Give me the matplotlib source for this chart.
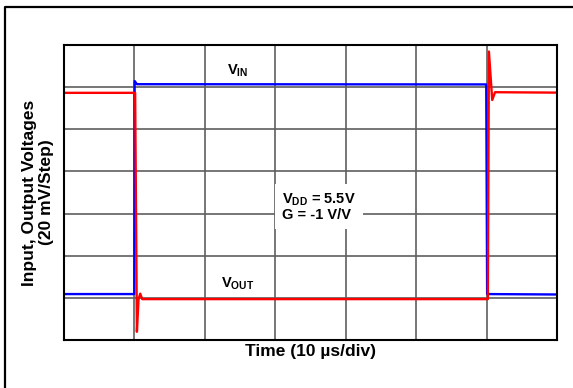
import matplotlib

matplotlib.use("Agg")
import matplotlib.pyplot as plt
from matplotlib.lines import Line2D

plt.rcParams["font.family"] = ["Liberation Sans", "DejaVu Sans"]
plt.rcParams["mathtext.fontset"] = "custom"
plt.rcParams["mathtext.rm"] = "Liberation Sans"
plt.rcParams["mathtext.bf"] = "Liberation Sans:bold"

# scope trace vertices (time in us, level in mV)
vin_time = [0, 9.98, 10.03, 10.35, 59.95, 60.08, 70]
vin_level = [21.8, 21.8, 122.9, 121.4, 121.3, 21.8, 21.6]

vout_time = [0, 10.1, 10.35, 10.58, 10.82, 11.1, 60.18, 60.33, 60.8, 61.2, 70]
vout_level = [117.3, 117.3, 3.9, 19.2, 22.0, 19.4, 19.4, 136.9, 113.9, 117.6, 117.4]

# 7 divisions each way: 10 us/div, 20 mV/step
time_divs = [0, 10, 20, 30, 40, 50, 60, 70]
level_divs = [0, 20, 40, 60, 80, 100, 120, 140]

fig = plt.figure(figsize=(5.73, 3.88), dpi=100)
ax = fig.add_axes([0.1117, 0.1237, 0.8604, 0.7603])

# outer frame: only its left and top edges are inside the picture
fig.add_artist(Line2D([0.008, 0.008, 0.999], [0.0, 0.981, 0.981],
                      transform=fig.transFigure, color="black", linewidth=1.6))

for t in time_divs[1:-1]:
    ax.axvline(t, color="#5f5f5f", linewidth=1.2, zorder=1)
for v in level_divs[1:-1]:
    ax.axhline(v, color="#5f5f5f", linewidth=1.2, zorder=1)

ax.plot(vin_time, vin_level, color="#0000ff", linewidth=1.7, zorder=3)
ax.plot(vout_time, vout_level, color="#ff0000", linewidth=1.7, zorder=4)

ax.text(24.7, 127.7, r"$\mathbf{V_{IN}}$", fontsize=10.5, ha="center",
        va="center", zorder=5)
ax.text(24.7, 26.6, r"$\mathbf{V_{OUT}}$", fontsize=10.5, ha="center",
        va="center", zorder=5)
ax.text(31.0, 63.0, "$\\mathbf{V_{DD}}$ = 5.5V\nG = -1 V/V", fontsize=10.5,
        fontweight="bold", ha="left", va="center", linespacing=1.0, zorder=5,
        bbox=dict(facecolor="white", edgecolor="none", pad=5))

ax.set_xlim(time_divs[0], time_divs[-1])
ax.set_ylim(level_divs[0], level_divs[-1])
ax.set_xticks([])
ax.set_yticks([])
for s in ax.spines.values():
    s.set_linewidth(1.5)
    s.set_zorder(6)

ax.set_xlabel("Time (10 µs/div)", fontsize=12.5, fontweight="bold", labelpad=3)
ax.set_ylabel("Input, Output Voltages\n(20 mV/Step)", fontsize=12.5,
              fontweight="bold", labelpad=7)
ax.yaxis.label.set_linespacing(1.2)

plt.savefig("out.png", dpi=100)
